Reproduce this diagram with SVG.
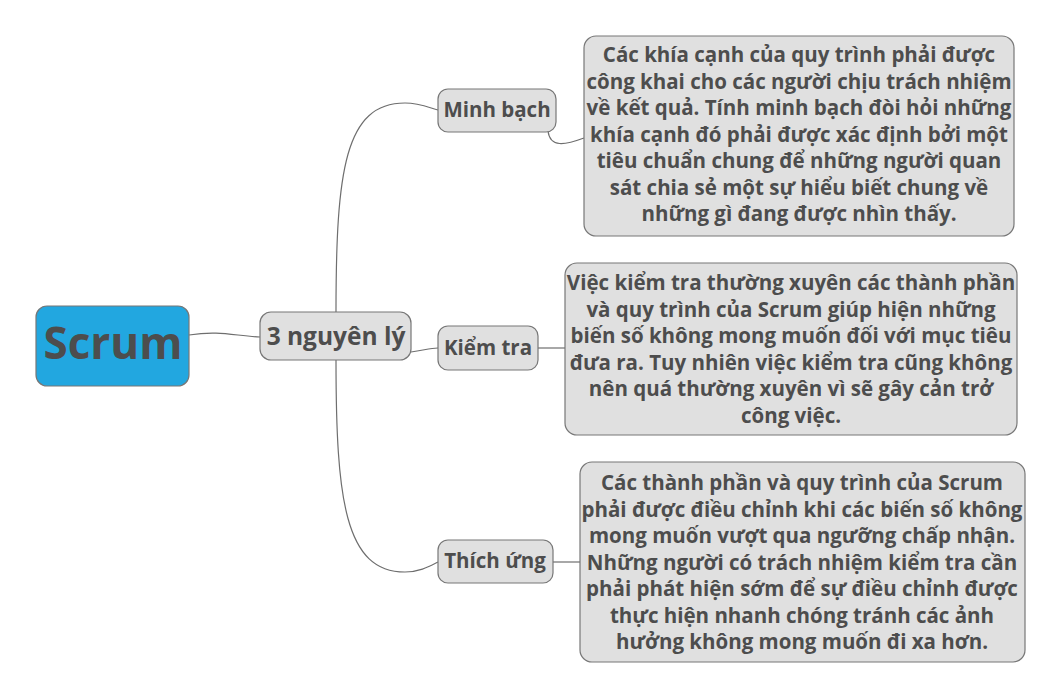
<svg xmlns="http://www.w3.org/2000/svg" width="1062" height="700" viewBox="0 0 1062 700">
<style>
.box{fill:#e0e0e0;stroke:#777;stroke-width:1.2}
.t{font-family:"Open Sans","Noto Sans","DejaVu Sans",sans-serif;font-weight:bold;fill:#4d4d4d;text-anchor:middle;dominant-baseline:central}
.d{font-size:20.5px}
.c{fill:none;stroke:#6e6e6e;stroke-width:1.2}
</style>
<rect width="1062" height="700" fill="#fff"/>
<g id="connectors">
<path class="c" d="M189 335 C220 330 235 336 260 337"/>
<path class="c" d="M336 312 C336 170 345 103 405 103 C420 103 430 108 438 110"/>
<path class="c" d="M411 352 C425 350 430 348 438 348"/>
<path class="c" d="M336 360 C336 500 345 572 405 572 C420 572 430 566 438 562"/>
<path class="c" d="M548 131 C550 148 565 145 584 138"/>
<path class="c" d="M538 348 L565 348"/>
<path class="c" d="M553 562 L580 562"/>
</g>
<g id="scrum">
<rect x="36" y="306" width="153" height="80" rx="11" fill="#22a7e0" stroke="#777" stroke-width="1.2"/>
<text class="t" x="113" y="342" font-size="44">Scrum</text>
</g>
<g id="nguyen-ly">
<rect class="box" x="260" y="312" width="151" height="48" rx="11"/>
<text class="t" x="336" y="335" font-size="24.5">3 nguyên lý</text>
</g>
<g id="minh-bach">
<rect class="box" x="438" y="89" width="118" height="43" rx="10"/>
<text class="t d" x="497" y="109">Minh bạch</text>
</g>
<g id="kiem-tra">
<rect class="box" x="438" y="326" width="100" height="44" rx="10"/>
<text class="t d" x="488" y="347">Kiểm tra</text>
</g>
<g id="thich-ung">
<rect class="box" x="438" y="540" width="115" height="43" rx="10"/>
<text class="t d" x="495" y="560">Thích ứng</text>
</g>
<g id="mo-ta-minh-bach">
<rect class="box" x="584" y="36" width="430" height="200" rx="12"/>
<text class="t d" x="799" y="54">Các khía cạnh của quy trình phải được</text>
<text class="t d" x="799" y="81">công khai cho các người chịu trách nhiệm</text>
<text class="t d" x="799" y="107">về kết quả. Tính minh bạch đòi hỏi những</text>
<text class="t d" x="799" y="134">khía cạnh đó phải được xác định bởi một</text>
<text class="t d" x="799" y="160">tiêu chuẩn chung để những người quan</text>
<text class="t d" x="799" y="187">sát chia sẻ một sự hiểu biết chung về</text>
<text class="t d" x="799" y="213">những gì đang được nhìn thấy.</text>
</g>
<g id="mo-ta-kiem-tra">
<rect class="box" x="565" y="263" width="452" height="172" rx="12"/>
<text class="t d" x="791" y="282">Việc kiểm tra thường xuyên các thành phần</text>
<text class="t d" x="791" y="309">và quy trình của Scrum giúp hiện những</text>
<text class="t d" x="791" y="335">biến số không mong muốn đối với mục tiêu</text>
<text class="t d" x="791" y="362">đưa ra. Tuy nhiên việc kiểm tra cũng không</text>
<text class="t d" x="791" y="388">nên quá thường xuyên vì sẽ gây cản trở</text>
<text class="t d" x="791" y="415">công việc.</text>
</g>
<g id="mo-ta-thich-ung">
<rect class="box" x="580" y="462" width="445" height="200" rx="12"/>
<text class="t d" x="802" y="482">Các thành phần và quy trình của Scrum</text>
<text class="t d" x="802" y="509">phải được điều chỉnh khi các biến số không</text>
<text class="t d" x="802" y="535">mong muốn vượt qua ngưỡng chấp nhận.</text>
<text class="t d" x="802" y="562">Những người có trách nhiệm kiểm tra cần</text>
<text class="t d" x="802" y="588">phải phát hiện sớm để sự điều chỉnh được</text>
<text class="t d" x="802" y="615">thực hiện nhanh chóng tránh các ảnh</text>
<text class="t d" x="802" y="641">hưởng không mong muốn đi xa hơn.</text>
</g>
</svg>
